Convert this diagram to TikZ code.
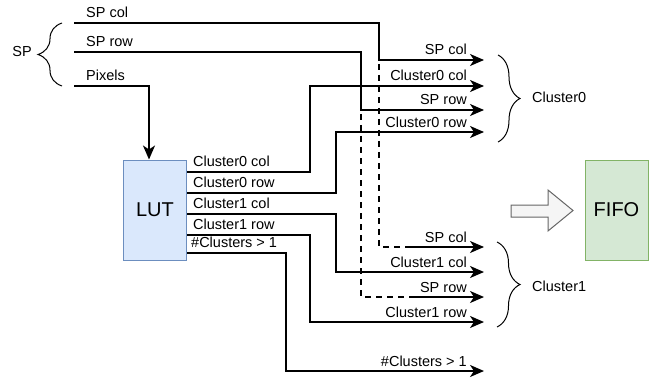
\documentclass[tikz,border=0pt]{standalone}
\usepackage{fontspec}
\setmainfont{Liberation Sans}
\usetikzlibrary{arrows.meta,decorations.pathreplacing}

\definecolor{lutfill}{HTML}{DAE8FC}
\definecolor{lutline}{HTML}{6C8EBF}
\definecolor{fifofill}{HTML}{D5E8D4}
\definecolor{fifoline}{HTML}{82B366}
\definecolor{bigfill}{HTML}{F5F5F5}
\definecolor{bigline}{HTML}{666666}

\tikzset{
    wire/.style={line width=2pt,-{Stealth[length=14pt,width=12pt,inset=4pt]}},
    dashwire/.style={line width=2pt,dash pattern=on 6pt off 5pt},
    sig/.style={font=\fontsize{14.5}{17}\selectfont,inner sep=0pt},
    bracket/.style={decorate,decoration={brace,amplitude=#1},line width=1pt},
    block/.style={draw,line width=1pt,minimum width=63pt,minimum height=100pt,font=\fontsize{20}{24}\selectfont}
}

\begin{document}
\begin{tikzpicture}[x=1pt,y=-1pt]
    \useasboundingbox (0,0) rectangle (652,382);

    \node[block,fill=lutfill,draw=lutline] (LUT) at (155,210) {LUT};
    \node[block,fill=fifofill,draw=fifoline] (FIFO) at (616.5,210) {FIFO};

    % inputs
    \coordinate (spcol) at (74,23);
    \coordinate (sprow) at (74,52);
    \coordinate (pixels) at (74,86);
    \node[sig,anchor=base west] (lspcol) at (86,18) {SP col};
    \node[sig,anchor=base west] (lsprow) at (86,47) {SP row};
    \node[sig,anchor=base west] (lpixels) at (86,81) {Pixels};
    \draw[bracket=24pt] (62,86) -- (62,23);
    \node[sig,anchor=base east] (lsp) at (32,57) {SP};

    % outputs
    \coordinate (c0spcol) at (484,60);
    \coordinate (c0col) at (484,86);
    \coordinate (c0sprow) at (484,110);
    \coordinate (c0row) at (484,132);
    \coordinate (c1spcol) at (484,247);
    \coordinate (c1col) at (484,272);
    \coordinate (c1sprow) at (484,297);
    \coordinate (c1row) at (484,322);
    \coordinate (multi) at (484,371);

    \draw[wire] (spcol) -- (379,23) -- (379,60) -- (c0spcol);
    \draw[wire] (sprow) -- (361,52) -- (361,110) -- (c0sprow);
    \draw[wire] (pixels) -| ([xshift=-6pt]LUT.north);

    \draw[wire] (LUT.east |- 0,172) -- (310,172) -- (310,86) -- (c0col);
    \draw[wire] (LUT.east |- 0,193) -- (336,193) -- (336,132) -- (c0row);
    \draw[wire] (LUT.east |- 0,214) -- (336,214) -- (336,272) -- (c1col);
    \draw[wire] (LUT.east |- 0,235) -- (310,235) -- (310,322) -- (c1row);
    \draw[wire] (LUT.east |- 0,253) -- (286,253) -- (286,371) -- (multi);

    \draw[dashwire] (379,64) -- (379,247) -- (410,247);
    \draw[wire] (410,247) -- (c1spcol);
    \draw[dashwire] (361,114) -- (361,297) -- (410,297);
    \draw[wire] (410,297) -- (c1sprow);

    \node[sig,anchor=base west] at (193,166.5) {Cluster0 col};
    \node[sig,anchor=base west] at (193,187.5) {Cluster0 row};
    \node[sig,anchor=base west] at (193,208.5) {Cluster1 col};
    \node[sig,anchor=base west] at (193,229.5) {Cluster1 row};
    \node[sig,anchor=base west] at (191,247.5) {\#Clusters > 1};

    \node[sig,anchor=base east] at (467,55) {SP col};
    \node[sig,anchor=base east] at (467,81) {Cluster0 col};
    \node[sig,anchor=base east] at (467,105) {SP row};
    \node[sig,anchor=base east] at (467,127.5) {Cluster0 row};
    \node[sig,anchor=base east] at (467,242) {SP col};
    \node[sig,anchor=base east] at (467,267) {Cluster1 col};
    \node[sig,anchor=base east] at (467,292) {SP row};
    \node[sig,anchor=base east] at (467,317) {Cluster1 row};
    \node[sig,anchor=base east] at (467,366) {\#Clusters > 1};

    \draw[bracket=22pt] (498,55) -- (498,142);
    \node[sig,anchor=base west] (lc0) at (532,103) {Cluster0};
    \draw[bracket=23pt] (497,242) -- (497,327);
    \node[sig,anchor=base west] (lc1) at (532,291) {Cluster1};

    \draw[fill=bigfill,draw=bigline,line width=1pt] (511,205) -- (548,205) -- (548,190) -- (573,210.5) -- (548,231) -- (548,217) -- (511,217) -- cycle;
\end{tikzpicture}
\end{document}
